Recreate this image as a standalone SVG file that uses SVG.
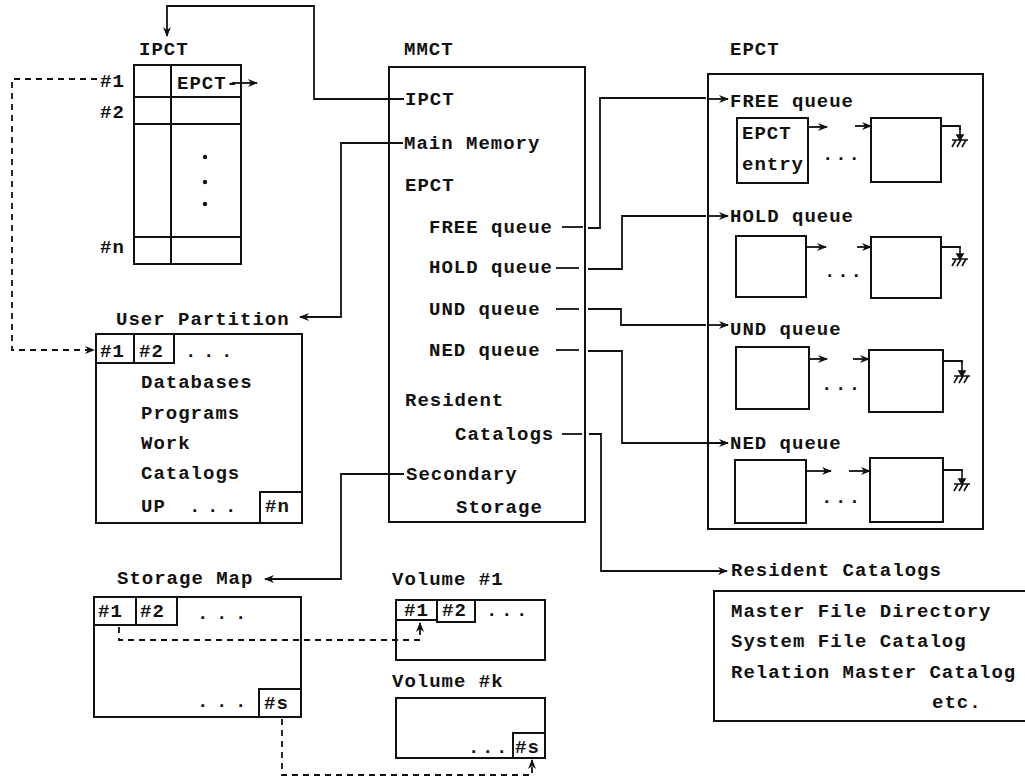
<svg xmlns="http://www.w3.org/2000/svg" xmlns:xlink="http://www.w3.org/1999/xlink" width="1025" height="779" viewBox="0 0 1025 779">
<style>
.t{font-family:"Liberation Mono","Courier New",monospace;font-weight:bold;font-size:19px;letter-spacing:1px;fill:#111}
.box{fill:none;stroke:#111;stroke-width:2}
.ln{fill:none;stroke:#111;stroke-width:1.8}
.dash{stroke-dasharray:6 5}
.dot{fill:#111}
</style>
<defs>
<marker id="ah" viewBox="0 0 10 8" refX="9" refY="4" markerWidth="10" markerHeight="8" markerUnits="userSpaceOnUse" orient="auto"><path d="M0,0 L10,4 L0,8 L3,4 z" fill="#111"/></marker>
<g id="gnd" fill="none" stroke="#111" stroke-width="1.6">
<path d="M0,-12 V0"/>
<path d="M-3,-5 L0,0 L3,-5 z" fill="#111"/>
<path d="M-8,0 H8 M-8,7 L-4,0 M-3,7 L1,0 M2,7 L6,0"/>
</g>
</defs>
<rect width="1025" height="779" fill="#fff"/>

<g id="ipct">
<text class="t" x="139" y="55">IPCT</text>
<rect class="box" x="134" y="65" width="107" height="199"/>
<path class="box" d="M171,65 V264 M134,97 H241 M134,124 H241 M134,237 H241"/>
<text class="t" x="100" y="87">#1</text>
<text class="t" x="100" y="118">#2</text>
<text class="t" x="100" y="253">#n</text>
<text class="t" x="177" y="89">EPCT-</text>
<line class="ln" x1="232" y1="83" x2="257" y2="83" marker-end="url(#ah)"/>
<circle class="dot" cx="205" cy="157" r="2.2"/>
<circle class="dot" cx="205" cy="182" r="2.2"/>
<circle class="dot" cx="205" cy="204" r="2.2"/>
</g>

<g id="mmct">
<text class="t" x="404" y="55">MMCT</text>
<rect class="box" x="389" y="67" width="196" height="455"/>
<text class="t" x="405" y="105">IPCT</text>
<text class="t" x="404" y="149">Main Memory</text>
<text class="t" x="405" y="191">EPCT</text>
<text class="t" x="429" y="233">FREE queue</text>
<text class="t" x="429" y="273">HOLD queue</text>
<text class="t" x="429" y="315">UND  queue</text>
<text class="t" x="429" y="356">NED  queue</text>
<text class="t" x="405" y="406">Resident</text>
<text class="t" x="455" y="440">Catalogs</text>
<text class="t" x="406" y="480">Secondary</text>
<text class="t" x="456" y="513">Storage</text>
</g>

<g id="epct">
<text class="t" x="730" y="55">EPCT</text>
<rect class="box" x="708" y="74" width="275" height="455"/>
<text class="t" x="730" y="107">FREE queue</text>
<text class="t" x="730" y="222">HOLD queue</text>
<text class="t" x="730" y="335">UND queue</text>
<text class="t" x="730" y="449">NED queue</text>
<rect class="box" x="737" y="118" width="71" height="65"/>
<text class="t" x="742" y="139">EPCT</text>
<text class="t" x="742" y="170">entry</text>
<rect class="box" x="871" y="118" width="70" height="64"/>
<rect class="box" x="736" y="236" width="70" height="61"/>
<rect class="box" x="871" y="237" width="70" height="61"/>
<rect class="box" x="736" y="347" width="73" height="62"/>
<rect class="box" x="869" y="350" width="74" height="62"/>
<rect class="box" x="735" y="460" width="71" height="63"/>
<rect class="box" x="870" y="458" width="73" height="64"/>
<text class="t" x="822" y="160" style="letter-spacing:1.8px">...</text>
<text class="t" x="824" y="277" style="letter-spacing:1.8px">...</text>
<text class="t" x="821" y="390" style="letter-spacing:2.5px">...</text>
<text class="t" x="821" y="503" style="letter-spacing:2.5px">...</text>
<g class="ln">
<line x1="808" y1="127" x2="827" y2="127" marker-end="url(#ah)"/>
<line x1="855" y1="126" x2="871" y2="126" marker-end="url(#ah)"/>
<line x1="806" y1="247" x2="826" y2="247" marker-end="url(#ah)"/>
<line x1="857" y1="247" x2="871" y2="247" marker-end="url(#ah)"/>
<line x1="809" y1="359" x2="827" y2="359" marker-end="url(#ah)"/>
<line x1="853" y1="359" x2="869" y2="359" marker-end="url(#ah)"/>
<line x1="806" y1="471" x2="831" y2="471" marker-end="url(#ah)"/>
<line x1="849" y1="471" x2="870" y2="471" marker-end="url(#ah)"/>
<path d="M941,126 H960 V130"/>
<path d="M941,247 H960 V248"/>
<path d="M943,361 H962 V364"/>
<path d="M943,470 H962 V472"/>
</g>
<use href="#gnd" x="960" y="140"/>
<use href="#gnd" x="960" y="259"/>
<use href="#gnd" x="962" y="376"/>
<use href="#gnd" x="962" y="484"/>
</g>

<g id="user-partition">
<text class="t" x="116" y="325">User Partition</text>
<rect class="box" x="96" y="334" width="206" height="189"/>
<path class="box" d="M96,363 H174 V334 M134,334 V363"/>
<text class="t" x="100" y="357">#1</text>
<text class="t" x="139" y="357">#2</text>
<text class="t" x="185" y="357" style="letter-spacing:6.6px">...</text>
<text class="t" x="141" y="388">Databases</text>
<text class="t" x="141" y="419">Programs</text>
<text class="t" x="141" y="449">Work</text>
<text class="t" x="141" y="479">Catalogs</text>
<text class="t" x="141" y="512">UP</text>
<text class="t" x="189" y="512" style="letter-spacing:6.6px">...</text>
<path class="box" d="M260,523 V492 H302"/>
<text class="t" x="265" y="512">#n</text>
</g>

<g id="storage-map">
<text class="t" x="117" y="584">Storage Map</text>
<rect class="box" x="94" y="597" width="207" height="120"/>
<path class="box" d="M94,625 H177 V597 M136,597 V625"/>
<text class="t" x="98" y="617">#1</text>
<text class="t" x="140" y="617">#2</text>
<text class="t" x="197" y="619" style="letter-spacing:7.6px">...</text>
<text class="t" x="197" y="707" style="letter-spacing:7.6px">...</text>
<path class="box" d="M259,717 V689 H301"/>
<text class="t" x="264" y="709">#s</text>
</g>

<g id="volume-1">
<text class="t" x="392" y="585">Volume #1</text>
<rect class="box" x="396" y="600" width="149" height="60"/>
<path class="box" d="M396,620 H437 M437,600 V622 H475 V600"/>
<text class="t" x="404" y="616">#1</text>
<text class="t" x="442" y="616">#2</text>
<text class="t" x="486" y="616" style="letter-spacing:3.6px">...</text>
</g>

<g id="volume-k">
<text class="t" x="392" y="687">Volume #k</text>
<rect class="box" x="396" y="698" width="149" height="60"/>
<path class="box" d="M513,758 V733 H545"/>
<text class="t" x="515" y="753">#s</text>
<text class="t" x="468" y="753" style="letter-spacing:2.6px">...</text>
</g>

<g id="resident-catalogs">
<text class="t" x="731" y="576">Resident Catalogs</text>
<rect class="box" x="714" y="591" width="320" height="130"/>
<text class="t" x="731" y="617">Master File Directory</text>
<text class="t" x="731" y="647">System File Catalog</text>
<text class="t" x="731" y="678">Relation Master Catalog</text>
<text class="t" x="932" y="708">etc.</text>
</g>

<g id="connectors" class="ln">
<polyline points="404,99 314,99 314,6 167,6 167,36" marker-end="url(#ah)"/>
<polyline points="403,143 341,143 341,317 300,317" marker-end="url(#ah)"/>
<polyline points="404,474 341,474 341,579 265,579" marker-end="url(#ah)"/>
<line x1="562" y1="227" x2="583" y2="227"/>
<polyline points="588,228 600,228 600,98 706,98"/>
<line x1="709" y1="99" x2="728" y2="99" marker-end="url(#ah)"/>
<line x1="556" y1="268" x2="579" y2="268"/>
<polyline points="588,269 622,269 622,216 706,216"/>
<line x1="709" y1="216" x2="728" y2="216" marker-end="url(#ah)"/>
<line x1="556" y1="309" x2="579" y2="309"/>
<polyline points="588,309 621,309 621,325 706,325"/>
<line x1="709" y1="325" x2="728" y2="325" marker-end="url(#ah)"/>
<line x1="556" y1="350" x2="579" y2="350"/>
<polyline points="588,351 622,351 622,443 728,443" marker-end="url(#ah)"/>
<line x1="562" y1="434" x2="582" y2="434"/>
<polyline points="589,434 601,434 601,571 727,571" marker-end="url(#ah)"/>
<polyline class="dash" points="97,79 12,79 12,350 94,350" marker-end="url(#ah)"/>
<polyline class="dash" points="119,627 119,640 420,640 420,623" marker-end="url(#ah)"/>
<polyline class="dash" points="282,719 282,775 532,775 532,760" marker-end="url(#ah)"/>
</g>
</svg>
